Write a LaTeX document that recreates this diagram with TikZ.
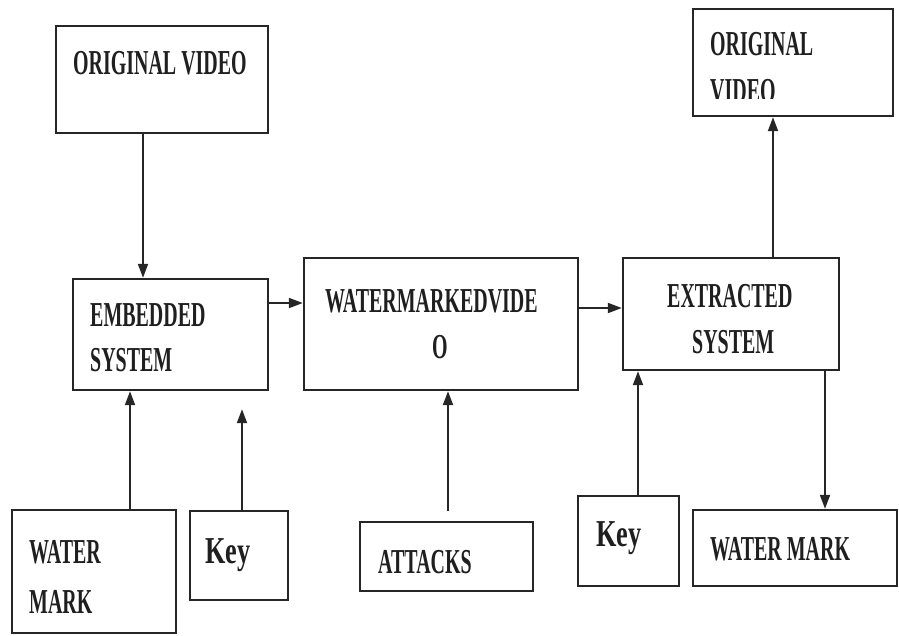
\documentclass[tikz,border=0pt]{standalone}
\usepackage{fontspec}
\setmainfont{Liberation Serif}
\newfontfamily\boxfont[FakeStretch=0.57]{Liberation Serif Bold}
\newfontfamily\keyfont[FakeStretch=0.69]{Liberation Serif Bold}
\usetikzlibrary{arrows.meta}
\tikzset{
  blk/.style={draw=black!85, line width=2.4pt, rectangle, inner sep=0pt},
  lbl/.style={anchor=base west, inner sep=0pt, font=\boxfont\fontsize{35}{42}\selectfont, text=black!88},
  klbl/.style={anchor=base west, inner sep=0pt, font=\keyfont\fontsize{38}{42}\selectfont, text=black!88},
  arr/.style={draw=black!85, line width=2pt, -{Triangle[length=14pt,width=10pt]}},
}
\begin{document}
\begin{tikzpicture}[x=1pt,y=-1pt]
\useasboundingbox (0,0) rectangle (899,635);
% boxes
\node[blk, minimum width=212pt, minimum height=107pt] (ov1) at (162,79.5) {};
\node[blk, minimum width=195pt, minimum height=111pt] (emb) at (170.5,334.5) {};
\node[blk, minimum width=274pt, minimum height=132pt] (wmv) at (441,324) {};
\node[blk, minimum width=216pt, minimum height=112pt] (ext) at (731,314) {};
\node[blk, minimum width=200pt, minimum height=107pt] (ov2) at (793,62.5) {};
\node[blk, minimum width=164pt, minimum height=123pt] (wm1) at (94,571.5) {};
\node[blk, minimum width=98pt, minimum height=89pt] (key1) at (239,555.5) {};
\node[blk, minimum width=173pt, minimum height=69pt] (att) at (446.5,556.5) {};
\node[blk, minimum width=101pt, minimum height=90pt] (key2) at (628.5,541) {};
\node[blk, minimum width=204pt, minimum height=76pt] (wm2) at (795,548) {};
% labels
\node[lbl] (t1) at (73,74) {ORIGINAL VIDEO};
\node[lbl] (t2a) at (90,326) {EMBEDDED};
\node[lbl] (t2b) at (90,371) {SYSTEM};
\node[lbl] (t3a) at (325,312) {WATERMARKEDVIDE};
\node[lbl, anchor=base] (t3b) at (440,358) {O};
\node[lbl] (t4a) at (667,307) {EXTRACTED};
\node[lbl] (t4b) at (692,353) {SYSTEM};
\node[lbl] (t5a) at (710,55) {ORIGINAL};
\begin{scope}
\clip (694,60) rectangle (892,98);
\node[lbl] (t5b) at (710,102) {VIDEO};
\end{scope}
\node[lbl] (t6a) at (29,563) {WATER};
\node[lbl] (t6b) at (29,613) {MARK};
\node[klbl] (t7) at (205,563) {Key};
\node[lbl] (t8) at (378,573) {ATTACKS};
\node[klbl] (t9) at (596,546) {Key};
\node[lbl] (t10) at (710,560) {WATER MARK};
% arrow guides
\coordinate (g1) at (143,0);
\coordinate (g2) at (0,303);
\coordinate (g3) at (0,308);
\coordinate (g4) at (773,0);
\coordinate (g5) at (825,0);
\coordinate (g6) at (130,0);
\coordinate (g7) at (242,0);
\coordinate (g8) at (448,0);
\coordinate (g9) at (638,0);
% arrows
\draw[arr] (ov1.south -| g1) -- (emb.north -| g1);
\draw[arr] (emb.east |- g2) -- (wmv.west |- g2);
\draw[arr] (wmv.east |- g3) -- (ext.west |- g3);
\draw[arr] (ext.north -| g4) -- (ov2.south -| g4);
\draw[arr] (ext.south -| g5) -- (wm2.north -| g5);
\draw[arr] (wm1.north -| g6) -- (emb.south -| g6);
\draw[arr, shorten >=18pt] (key1.north -| g7) -- (emb.south -| g7);
\draw[arr, shorten <=10pt] (att.north -| g8) -- (wmv.south -| g8);
\draw[arr] (key2.north -| g9) -- (ext.south -| g9);
\end{tikzpicture}
\end{document}
